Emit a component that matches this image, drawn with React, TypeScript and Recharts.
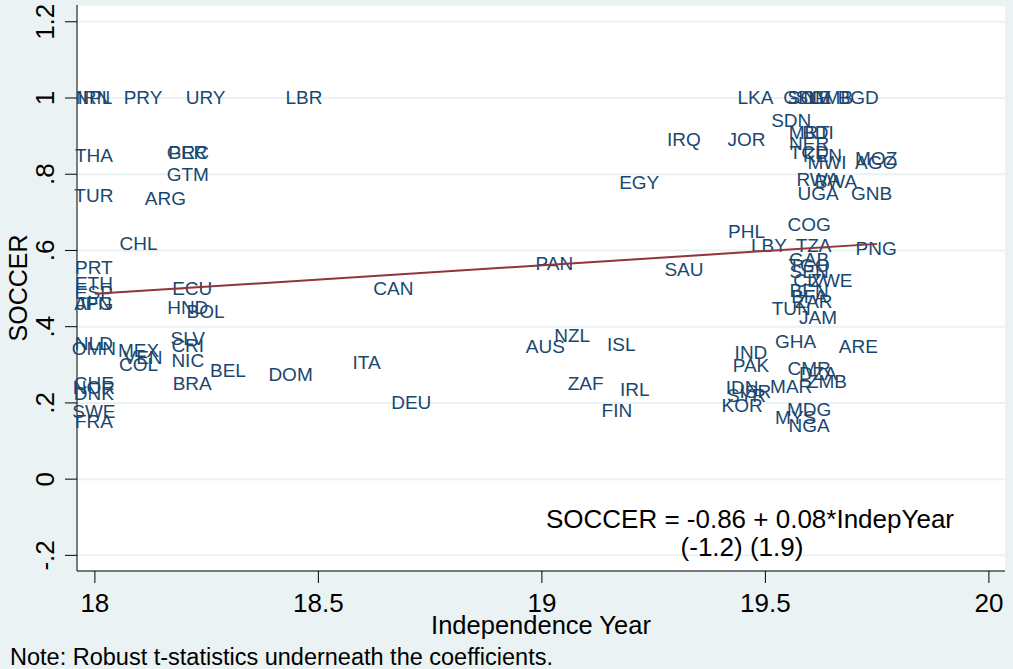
import React from "react"
import { ScatterChart, Scatter, XAxis, YAxis, CartesianGrid } from "recharts"

// country codes, independence year (/100) and soccer share
const codes = [
  "NPL", "IRN", "PRY", "URY", "LBR", "LKA", "GIN", "SOM", "SLE", "GMB", "BGD",
  "THA", "PER", "GRC", "GTM", "TUR", "ARG", "IRQ", "JOR", "SDN", "MRT", "BDI",
  "NER", "TCD", "KEN", "MWI", "MOZ", "AGO", "RWA", "BWA", "UGA", "GNB", "EGY",
  "CHL", "PRT", "ETH", "ESP", "AFG", "JPN", "ECU", "HND", "BOL", "CAN", "PAN",
  "SAU", "PHL", "LBY", "COG", "TZA", "PNG", "GAB", "TGO", "SEN", "CIV", "ZWE",
  "BEN", "BFA", "ZAR", "TUN", "JAM", "NLD", "OMN", "MEX", "VEN", "COL", "SLV",
  "CRI", "NIC", "BEL", "DOM", "BRA", "CHE", "NOR", "DNK", "SWE", "FRA", "ITA",
  "DEU", "NZL", "AUS", "ISL", "ZAF", "IRL", "FIN", "GHA", "ARE", "IND", "PAK",
  "CMR", "DZA", "ZMB", "MAR", "IDN", "ISR", "SYR", "KOR", "MDG", "MYS", "NGA",
]
const indepYear = [
  18.0, 18.0, 18.11, 18.25, 18.47, 19.48, 19.58, 19.6, 19.61, 19.65, 19.71,
  18.0, 18.21, 18.21, 18.21, 18.0, 18.16, 19.32, 19.46, 19.56, 19.6, 19.62,
  19.6, 19.6, 19.63, 19.64, 19.75, 19.75, 19.62, 19.66, 19.62, 19.74, 19.22,
  18.1, 18.0, 18.0, 18.0, 18.0, 18.0, 18.22, 18.21, 18.25, 18.67, 19.03,
  19.32, 19.46, 19.51, 19.6, 19.61, 19.75, 19.6, 19.6, 19.6, 19.6, 19.65,
  19.6, 19.6, 19.61, 19.56, 19.62, 18.0, 18.0, 18.1, 18.11, 18.1, 18.21,
  18.21, 18.21, 18.3, 18.44, 18.22, 18.0, 18.0, 18.0, 18.0, 18.0, 18.61,
  18.71, 19.07, 19.01, 19.18, 19.1, 19.21, 19.17, 19.57, 19.71, 19.47, 19.47,
  19.6, 19.62, 19.64, 19.56, 19.45, 19.48, 19.46, 19.45, 19.6, 19.57, 19.6,
]
const soccer = [
  1.0, 1.0, 1.0, 1.0, 1.0, 1.0, 1.0, 1.0, 1.0, 1.0, 1.0,
  0.848, 0.858, 0.858, 0.8, 0.745, 0.737, 0.89, 0.89, 0.942, 0.91, 0.91,
  0.88, 0.858, 0.85, 0.83, 0.84, 0.83, 0.785, 0.78, 0.75, 0.75, 0.777,
  0.617, 0.556, 0.514, 0.49, 0.46, 0.46, 0.5, 0.45, 0.44, 0.499, 0.567,
  0.551, 0.651, 0.614, 0.667, 0.614, 0.606, 0.577, 0.56, 0.546, 0.522, 0.522,
  0.494, 0.48, 0.465, 0.449, 0.423, 0.357, 0.344, 0.338, 0.32, 0.3, 0.37,
  0.35, 0.312, 0.284, 0.275, 0.252, 0.252, 0.24, 0.226, 0.178, 0.15, 0.307,
  0.202, 0.378, 0.349, 0.354, 0.252, 0.236, 0.181, 0.362, 0.349, 0.331, 0.297,
  0.291, 0.278, 0.257, 0.244, 0.24, 0.23, 0.22, 0.194, 0.184, 0.163, 0.14,
]

// OLS fit: SOCCER = -0.862 + 0.0749*IndepYear, over the data range
const fitIntercept = -0.862
const fitSlope = 0.0749
const fitRange = [18.0, 19.75]

const xTicks = [18, 18.5, 19, 19.5, 20]
const yTicks = [-0.2, 0, 0.2, 0.4, 0.6, 0.8, 1, 1.2]

const points = codes.map((c, i) => ({ code: c, x: indepYear[i], y: soccer[i] }))
const fit = fitRange.map((x) => ({ x, y: fitIntercept + fitSlope * x }))

const FONT = "'Liberation Sans', Arial, Helvetica, sans-serif"
const NAVY = "#1a476f"
const BG = "#eaf2f3"

const fmtY = (v: number) => {
  const s = String(Math.round(v * 10) / 10)
  return s.replace(/^0\./, ".").replace(/^-0\./, "-.")
}

const CodeLabel = (props: any) => {
  const { cx, cy, payload } = props
  return (
    <text x={cx - 1} y={cy} textAnchor="middle" dominantBaseline="central" fontSize={19} fontFamily={FONT} fill={NAVY}>
      {payload.code}
    </text>
  )
}

const XTick = ({ x, y, payload }: any) => (
  <text x={x} y={y} dy={27} textAnchor="middle" fontSize={26} fontFamily={FONT} fill="#000">
    {payload.value}
  </text>
)

const YTick = ({ y, payload }: any) => (
  <text x={54} y={y} transform={`rotate(-90, 54, ${y})`} textAnchor="middle" fontSize={26} fontFamily={FONT} fill="#000">
    {fmtY(payload.value)}
  </text>
)

export default function App() {
  return (
    <div style={{ position: "absolute", left: 0, top: 0, width: 1013, height: 669, background: BG, fontFamily: FONT }}>
      <ScatterChart width={1013} height={669} margin={{ top: 5, right: 8, bottom: 0, left: 0 }}>
        <CartesianGrid vertical={false} fill="#ffffff" stroke={BG} strokeWidth={2} />
        <XAxis
          type="number"
          dataKey="x"
          domain={[17.96, 20.036]}
          ticks={xTicks}
          height={98}
          tickSize={12}
          stroke="#000"
          tick={<XTick />}
          label={({ viewBox }: any) => (
            <text x={viewBox.x + viewBox.width / 2} y={634} textAnchor="middle" fontSize={25.5} fontFamily={FONT} fill="#000">
              Independence Year
            </text>
          )}
        />
        <YAxis
          type="number"
          dataKey="y"
          domain={[-0.241, 1.244]}
          ticks={yTicks}
          width={77}
          tickSize={12}
          stroke="#000"
          tick={<YTick />}
          label={({ viewBox }: any) => {
            const cy = viewBox.y + viewBox.height / 2
            return (
              <text x={27} y={cy} transform={`rotate(-90, 27, ${cy})`} textAnchor="middle" fontSize={25} fontFamily={FONT} fill="#000">
                SOCCER
              </text>
            )
          }}
        />
        <Scatter data={points} shape={<CodeLabel />} isAnimationActive={false} />
        <Scatter data={fit} line={{ stroke: "#90353b", strokeWidth: 2 }} shape={() => <g />} isAnimationActive={false} />
      </ScatterChart>
      <div style={{ position: "absolute", left: 500, width: 500, top: 505, textAlign: "center", fontSize: 26, lineHeight: "28px", color: "#000" }}>
        <div>SOCCER = -0.86 + 0.08*IndepYear</div>
        <div style={{ marginLeft: -16 }}>(-1.2) (1.9)</div>
      </div>
      <div style={{ position: "absolute", left: 10, top: 644, fontSize: 23.5, lineHeight: "26px", color: "#000" }}>
        Note: Robust t-statistics underneath the coefficients.
      </div>
    </div>
  )
}
